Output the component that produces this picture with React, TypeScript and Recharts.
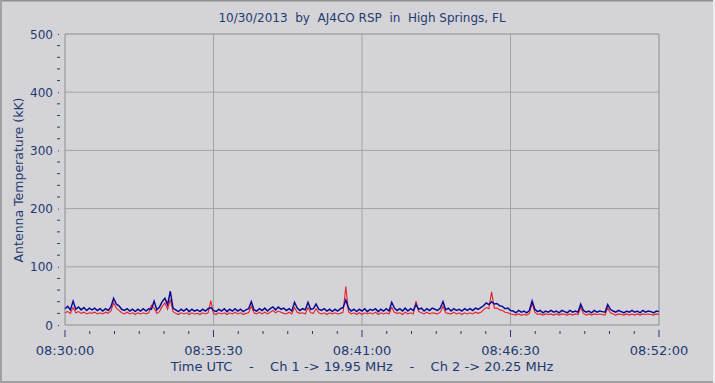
import React from 'react';
import { LineChart, Line, XAxis, YAxis, ReferenceLine, ReferenceArea } from 'recharts';

const title = '10/30/2013  by  AJ4CO RSP  in  High Springs, FL';
const yTitle = 'Antenna Temperature (kK)';
const xTitle = 'Time UTC    -    Ch 1 -> 19.95 MHz    -    Ch 2 -> 20.25 MHz';

const stepSeconds = 6;
const xMajorTicks = [0, 330, 660, 990, 1320];
const xMajorLabels = ['08:30:00', '08:35:30', '08:41:00', '08:46:30', '08:52:00'];
const xMinorTicks = [0, 55, 110, 165, 220, 275, 330, 385, 440, 495, 550, 605, 660, 715, 770, 825, 880, 935, 990, 1045, 1100, 1155, 1210, 1265, 1320];
const yTicks = [0, 20, 40, 60, 80, 100, 120, 140, 160, 180, 200, 220, 240, 260, 280, 300, 320, 340, 360, 380, 400, 420, 440, 460, 480, 500];
const yGrid = [100, 200, 300, 400];

// Ch 1 (19.95 MHz) - red
const ch1 = [
  21, 23, 20, 30, 21, 23, 20, 22, 19, 21,
  20, 22, 19, 21, 19, 22, 20, 24, 38, 29,
  25, 21, 19, 22, 19, 21, 18, 21, 19, 21,
  19, 21, 34, 29, 20, 23, 32, 38, 27, 44,
  23, 20, 18, 21, 19, 21, 18, 21, 19, 20,
  18, 21, 19, 21, 42, 20, 18, 21, 19, 21,
  18, 21, 19, 22, 19, 21, 18, 20, 21, 32,
  21, 19, 22, 19, 22, 19, 22, 25, 21, 24,
  22, 20, 19, 22, 19, 30, 22, 20, 21, 19,
  30, 21, 20, 28, 21, 19, 21, 18, 21, 19,
  21, 19, 20, 22, 66, 23, 19, 21, 18, 21,
  18, 21, 19, 21, 19, 22, 18, 21, 19, 21,
  19, 30, 22, 20, 21, 18, 22, 19, 21, 19,
  41, 23, 21, 19, 22, 19, 21, 20, 19, 22,
  32, 21, 20, 19, 22, 19, 21, 18, 21, 19,
  21, 19, 22, 20, 22, 26, 30, 28, 57, 29,
  29, 26, 25, 22, 21, 19, 18, 17, 19, 17,
  18, 17, 20, 38, 22, 18, 19, 17, 19, 18,
  19, 17, 19, 17, 19, 18, 17, 19, 17, 19,
  18, 30, 20, 17, 19, 17, 19, 18, 19, 18,
  17, 29, 21, 19, 17, 19, 18, 17, 19, 17,
  19, 17, 19, 17, 19, 18, 19, 18, 17, 19,
  18,
];

// Ch 2 (20.25 MHz) - blue
const ch2 = [
  28, 32, 26, 41, 27, 31, 26, 30, 25, 29,
  26, 29, 25, 28, 24, 28, 25, 31, 46, 36,
  33, 27, 25, 28, 24, 27, 23, 27, 24, 28,
  24, 28, 27, 41, 26, 31, 40, 46, 35, 58,
  29, 26, 23, 27, 24, 28, 23, 27, 24, 26,
  23, 27, 24, 28, 30, 25, 23, 27, 24, 28,
  23, 27, 24, 28, 24, 27, 23, 26, 28, 40,
  26, 24, 28, 25, 29, 24, 28, 31, 26, 31,
  27, 29, 25, 28, 24, 39, 29, 25, 28, 26,
  39, 27, 28, 36, 27, 25, 28, 24, 27, 23,
  27, 24, 28, 30, 43, 29, 24, 27, 23, 27,
  24, 28, 23, 27, 25, 28, 23, 27, 24, 28,
  24, 39, 29, 25, 28, 24, 29, 24, 28, 25,
  35, 27, 29, 24, 28, 25, 29, 27, 25, 29,
  40, 26, 29, 24, 28, 25, 27, 24, 28, 25,
  28, 25, 29, 27, 30, 33, 38, 35, 40, 36,
  37, 33, 32, 28, 29, 25, 24, 21, 25, 22,
  24, 21, 25, 41, 27, 23, 25, 21, 24, 22,
  25, 22, 24, 21, 25, 23, 21, 25, 22, 24,
  22, 36, 25, 22, 24, 21, 25, 22, 24, 23,
  22, 35, 27, 24, 22, 25, 23, 21, 24, 22,
  25, 22, 24, 21, 25, 22, 24, 23, 21, 24,
  23,
];

const data = ch1.map((v, i) => ({ t: i * stepSeconds, ch1: v, ch2: ch2[i] }));

const BG = '#d4d4d8';
const TEXT = '#1f3a6e';
const GRID = '#a2a2a6';
const FONT = '"DejaVu Sans", Verdana, sans-serif';

const XTick = (props: any) => {
  const { x, y, payload } = props;
  const idx = xMajorTicks.indexOf(payload.value);
  const major = idx >= 0;
  return (
    <g>
      <line x1={x} x2={x} y1={y + (major ? 5 : 6)} y2={y + (major ? 12 : 9)} stroke={TEXT} strokeWidth={1} />
      {major && (
        <text x={x} y={y + 30} textAnchor="middle" fill={TEXT} fontSize={13} fontFamily={FONT}>
          {xMajorLabels[idx]}
        </text>
      )}
    </g>
  );
};

const YTick = (props: any) => {
  const { x, y, payload } = props;
  const major = payload.value % 100 === 0;
  if (!major) {
    return <line x1={x - 8} x2={x - 5} y1={y} y2={y} stroke={TEXT} strokeWidth={1} />;
  }
  return (
    <g>
      <rect x={x - 7} y={y} width={1} height={1} fill={TEXT} />
      <text x={x - 12} y={y + 4.5} textAnchor="end" fill={TEXT} fontSize={12} fontFamily={FONT}>
        {payload.value}
      </text>
    </g>
  );
};

export default function App() {
  return (
    <div style={{ position: 'absolute', left: 0, top: 0, width: 715, height: 383, background: BG, overflow: 'hidden' }}>
      <LineChart width={715} height={383} data={data} margin={{ top: 34, right: 56, bottom: 0, left: 0 }}>
        <XAxis
          type="number"
          dataKey="t"
          domain={[0, 1320]}
          ticks={xMinorTicks}
          interval={0}
          tick={<XTick />}
          tickSize={0}
          tickMargin={0}
          axisLine={false}
          tickLine={false}
          height={58}
        />
        <YAxis
          type="number"
          domain={[0, 500]}
          ticks={yTicks}
          interval={0}
          tick={<YTick />}
          tickSize={0}
          tickMargin={0}
          axisLine={false}
          tickLine={false}
          width={65}
        />
        {yGrid.map((v) => (
          <ReferenceLine key={'h' + v} y={v} stroke={GRID} strokeWidth={1} />
        ))}
        {xMajorTicks.slice(1, -1).map((v) => (
          <ReferenceLine key={'v' + v} x={v} stroke={GRID} strokeWidth={1} />
        ))}
        <ReferenceArea x1={0} x2={1320} y1={0} y2={500} fill="none" stroke="#8c8c90" strokeWidth={1} ifOverflow="visible" />
        <Line type="linear" dataKey="ch1" stroke="#e5202a" strokeWidth={1.1} dot={false} isAnimationActive={false} />
        <Line type="linear" dataKey="ch2" stroke="#0a0a96" strokeWidth={1.5} dot={false} isAnimationActive={false} />
      </LineChart>
      <svg width={715} height={383} style={{ position: 'absolute', left: 0, top: 0, pointerEvents: 'none' }}>
        <text x={362} y={22} textAnchor="middle" fill={TEXT} fontSize={12} fontFamily={FONT} style={{ whiteSpace: 'pre' }}>
          {title}
        </text>
        <text
          x={23}
          y={180}
          textAnchor="middle"
          fill={TEXT}
          fontSize={12.5}
          fontFamily={FONT}
          transform="rotate(-90 23 180)"
        >
          {yTitle}
        </text>
        <text x={362} y={371} textAnchor="middle" fill={TEXT} fontSize={13} fontFamily={FONT} style={{ whiteSpace: 'pre' }}>
          {xTitle}
        </text>
        <line x1={0} y1={0.5} x2={715} y2={0.5} stroke="#8f8f93" strokeWidth={2} />
        <line x1={1} y1={0} x2={1} y2={383} stroke="#a0a0a4" strokeWidth={2} />
        <line x1={0} y1={382} x2={715} y2={382} stroke="#a0a0a4" strokeWidth={2} />
        <line x1={714} y1={0} x2={714} y2={383} stroke="#ececf0" strokeWidth={2} />
      </svg>
    </div>
  );
}
